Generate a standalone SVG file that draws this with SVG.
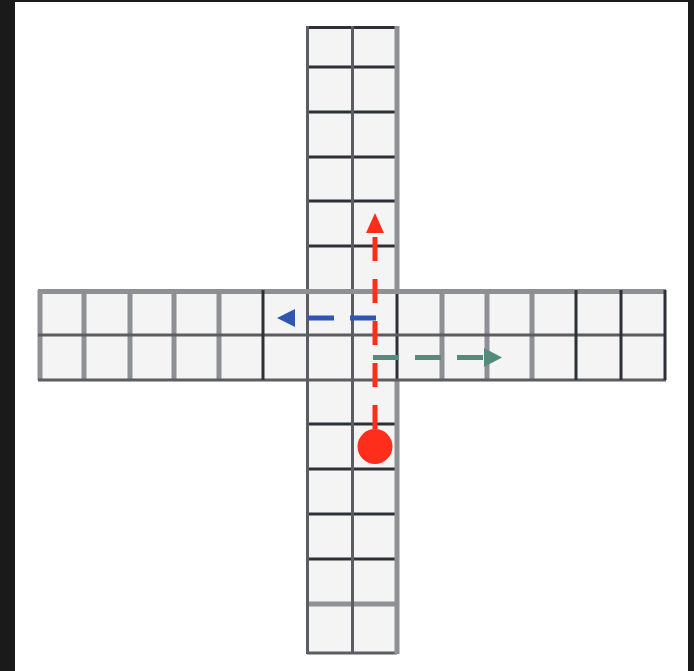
<svg xmlns="http://www.w3.org/2000/svg" width="694" height="671" viewBox="0 0 694 671">
  <style>
    .cell { fill: #f4f4f4; }
    .dk { stroke: #2e3038; stroke-width: 3; fill: none; }
    .md { stroke: #5c5d63; stroke-width: 3; fill: none; }
    .gr { stroke: #8f9094; stroke-width: 5; fill: none; }
    .red { stroke: #ff2e1c; stroke-width: 5; fill: none; stroke-dasharray: 24 18; }
    .blue { stroke: #2f56b0; stroke-width: 5; fill: none; stroke-dasharray: 26 16; }
    .green { stroke: #548c7c; stroke-width: 5; fill: none; stroke-dasharray: 26 16; }
  </style>
  <rect x="0" y="0" width="694" height="671" fill="#1a1a1a"/>
  <rect x="15" y="2" width="673" height="669" fill="#ffffff"/>

  <g id="grid">
    <rect class="cell" x="307" y="26" width="90" height="628"/>
    <rect class="cell" x="38" y="290" width="628" height="90"/>
    <!-- vertical strip: horizontal lines -->
    <path class="dk" d="M307 27.5H397M307 67H397M307 112H397M307 157H397M307 201H397M307 246H397M307 424H397M307 469H397M307 514H397M307 559H397"/>
    <path class="gr" d="M307 604H397"/>
    <path class="md" d="M307 653H397"/>
    <!-- vertical strip: vertical lines -->
    <path class="md" d="M307.5 26V654M352.5 26V654"/>
    <path class="gr" d="M397 26V290M397 380V654"/>
    <path class="dk" d="M397 290V380"/>
    <!-- horizontal strip -->
    <path class="gr" d="M38 291.5H666M40 290V380M84 290V380M130 290V380M174 290V380M219 290V380M442 290V380M487 290V380M532 290V380"/>
    <path class="md" d="M38 335H666M38 380H666"/>
    <path class="dk" d="M263 290V380M576 290V380M621 290V380M665 290V380"/>
  </g>

  <g id="robot">
    <circle cx="375" cy="446.5" r="17.5" fill="#ff2e1c"/>
  </g>

  <g id="connectors">
    <path class="red" d="M375 429V237" stroke-dashoffset="0"/>
    <polygon points="375,213 366,233 384,233" fill="#ff2e1c"/>
    <path class="blue" d="M376 318H296"/>
    <polygon points="277,318 295,309 295,327" fill="#2f56b0"/>
    <path class="green" d="M373 357.5H485"/>
    <polygon points="502,357.5 484,348 484,367" fill="#548c7c"/>
  </g>
</svg>
